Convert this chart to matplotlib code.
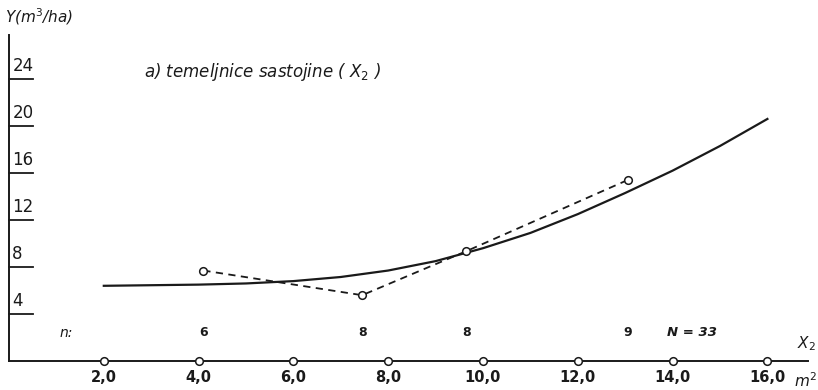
import numpy as np
import matplotlib.pyplot as plt

# group means (dashed, open circles)
obs_x = [4.1, 7.45, 9.65, 13.05]
obs_y = [7.7, 5.6, 9.35, 15.4]
# fitted curve
fit_x = [2.0, 3.0, 4.0, 5.0, 6.0, 7.0, 8.0, 9.0, 10.0, 11.0, 12.0, 13.0, 14.0, 15.0, 16.0]
fit_y = [6.4, 6.45, 6.5, 6.6, 6.8, 7.15, 7.7, 8.5, 9.6, 10.9, 12.5, 14.3, 16.2, 18.3, 20.6]
# group sizes
n_x = [4.1, 7.45, 9.65, 13.05]
n_lab = ['6', '8', '8', '9']
xticks = [2, 4, 6, 8, 10, 12, 14, 16]
xtick_lab = ['2,0', '4,0', '6,0', '8,0', '10,0', '12,0', '14,0', '16,0']
yticks = [4, 8, 12, 16, 20, 24]

ink = '#1a1a1a'
plt.rcParams['font.family'] = 'DejaVu Sans'

W, H = 818, 390
fig = plt.figure(figsize=(W / 100, H / 100), dpi=100)
ax = fig.add_axes([9 / W, (H - 361) / H, (808 - 9) / W, (361 - 35) / H])
ax.set_xlim(0, (808 - 9) / 47.4)
ax.set_ylim(0, (361 - 35) / 11.75)
for s in ['top', 'right']:
    ax.spines[s].set_visible(False)
for s in ['left', 'bottom']:
    ax.spines[s].set_color(ink)
    ax.spines[s].set_linewidth(1.4)
ax.set_xticks([])
ax.set_yticks([])

ax.plot(fit_x, fit_y, color=ink, lw=1.6, solid_joinstyle='round')

ax.plot(obs_x, obs_y, color=ink, lw=1.3, ls=(0, (4, 3)), marker='o',
        mfc='white', mec=ink, ms=5.5, mew=1.1)

# y ticks: underlined numbers
for v in yticks:
    ax.plot([0, 0.5], [v, v], color=ink, lw=1.3, clip_on=False)
    ax.text(0.07, v + 0.3, str(v), fontsize=12, color=ink, ha='left', va='bottom')

# x ticks: open circles on the axis
ax.plot(xticks, [0] * len(xticks), ls='none', marker='o', mfc='white', mec=ink,
        ms=5.5, mew=1.1, clip_on=False, zorder=5)
for v, t in zip(xticks, xtick_lab):
    ax.text(v, -0.75, t, fontsize=10.5, color=ink, ha='center', va='top',
            fontweight='bold')

# n row
ax.text(1.2, 2.4, 'n:', fontsize=10, color=ink, style='italic', ha='center', va='center')
for x, t in zip(n_x, n_lab):
    ax.text(x, 2.4, t, fontsize=9, color=ink, ha='center', va='center', fontweight='bold')
ax.text(14.4, 2.4, 'N = 33', fontsize=9.5, color=ink, style='italic',
        ha='center', va='center', fontweight='bold')

ax.text(2.85, 24.6, 'a) temeljnice sastojine ( $X_2$ )', fontsize=12, color=ink,
        style='italic', ha='left', va='center')
fig.text(5 / W, 1 - 17 / H, 'Y(m$^3$/ha)', fontsize=11, color=ink, style='italic',
         ha='left', va='center')
fig.text(806 / W, 1 - 344 / H, '$X_2$', fontsize=11, color=ink, ha='center', va='center')
fig.text(806 / W, 1 - 381 / H, '$m^2$', fontsize=11, color=ink, ha='center', va='center')

fig.savefig('out.png', dpi=100)
